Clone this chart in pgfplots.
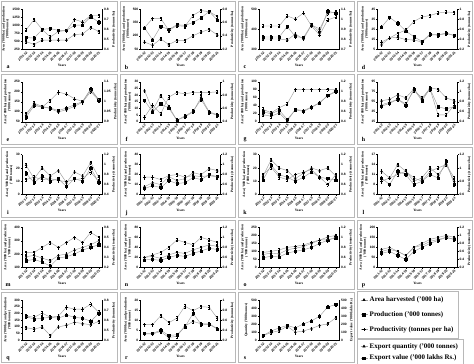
\documentclass[border=0pt]{standalone}
\usepackage{fontspec}
\setmainfont{Liberation Serif}
\setsansfont{Liberation Sans}
\usepackage{pgfplots}
\pgfplotsset{compat=1.18}
\definecolor{lncol}{gray}{0.62}
\definecolor{boxcol}{gray}{0.72}
\newcommand\tk{\fontsize{3.3}{3.6}\selectfont\sffamily\bfseries}
\newcommand\lb{\fontsize{3.5}{3.9}\selectfont\bfseries}
\pgfplotsset{
  panelbase/.style={scale only axis, width=80bp, height=40bp,
    xmin=-0.5, xmax=9.4, xtick={0,...,9},
    xticklabels={2011-12,2012-13,2013-14,2014-15,2015-16,2016-17,2017-18,2018-19,2019-20,2020-21},
    tick align=outside, major tick length=1.2bp,
    tick style={black, line width=0.3bp},
    axis line style={black, line width=0.4bp},
    ticklabel style={font=\tk},
    /pgf/number format/assume math mode=true,
    /pgf/number format/1000 sep={},
    yticklabel style={inner sep=0.8bp},
    label style={font=\lb},
    clip=false,
  },
  err/.style={every axis plot post/.append style={error bars/y fixed=#1}},
  leftax/.style={panelbase, axis x line*=bottom, axis y line*=left,
    xticklabel style={rotate=45, anchor=north east, inner sep=0.5bp},
    xlabel={Years}, xlabel style={yshift=1.5bp},
    ylabel style={align=center, yshift=-1bp},
  },
  rightax/.style={panelbase, axis y line*=right, axis x line=none,
     ylabel style={align=center, yshift=1bp}},
  ser/.style={lncol, line width=0.45bp, mark options={black, solid},
     error bars/y dir=both,
     error bars/error bar style={black, line width=0.3bp},
     error bars/error mark options={rotate=90, black, mark size=0.8bp}},
  sA/.style={ser, mark=triangle*, mark size=1bp},
  sP/.style={ser, mark=square*, mark size=1.1bp},
  sY/.style={ser, mark=-, mark size=1.2bp},
}
% #1 x, #2 y, #3 letter, #4 left opts, #5 right opts, #6 area, #7 production, #8 productivity
\newcommand\Panel[8]{%
  \draw[boxcol, line width=0.5bp] ({(#1+1.5)*1bp},{-(#2+1.5)*1bp}) rectangle ({(#1+117)*1bp},{-(#2+71.3)*1bp});
  \begin{axis}[leftax, at={({(#1+22)*1bp},{-(#2+9)*1bp})}, anchor=north west, #4,
    ylabel={Area ('000 ha) and production\\('000 tonnes)}]
    \addplot[sA] coordinates {#6};
    \addplot[sP] coordinates {#7};
  \end{axis}
  \begin{axis}[rightax, at={({(#1+22)*1bp},{-(#2+9)*1bp})}, anchor=north west, #5,
    ylabel={Productivity (tonnes/ha)}]
    \addplot[sY] coordinates {#8};
  \end{axis}
  \node[font=\fontsize{6}{6}\selectfont\bfseries] at ({(#1+8)*1bp},{-(#2+67)*1bp}) {#3};
}
\begin{document}
\begin{tikzpicture}
\useasboundingbox (0,0) rectangle (474bp,-364bp);
% Row 1
\Panel{0}{0}{a}{ymin=250,ymax=1500,ytick={250,500,750,1000,1250,1500},err=50}{ymin=0.4,ymax=0.8,ytick={0.4,0.5,0.6,0.7,0.8},err=0.016}
{(0,480)(1,395)(2,530)(3,530)(4,530)(5,530)(6,700)(7,720)(8,920)(9,800)}
{(0,610)(1,590)(2,860)(3,890)(4,830)(5,830)(6,990)(7,1000)(8,1260)(9,1090)}
{(0,0.59)(1,0.695)(2,0.595)(3,0.52)(4,0.575)(5,0.585)(6,0.695)(7,0.67)(8,0.735)(9,0.735)}
\Panel{118.5}{0}{b}{ymin=50,ymax=500,ytick={50,200,350,500},err=18}{ymin=0.2,ymax=0.8,ytick={0.2,0.4,0.6,0.8},err=0.024}
{(0,128)(1,92)(2,163)(3,100)(4,146)(5,146)(6,199)(7,241)(8,270)(9,209)}
{(0,287)(1,153)(2,305)(3,270)(4,323)(5,316)(6,348)(7,401)(8,472)(9,376)}
{(0,0.52)(1,0.66)(2,0.66)(3,0.48)(4,0.55)(5,0.54)(6,0.705)(7,0.776)(8,0.76)(9,0.69)}
\Panel{237}{0}{c}{ymin=300,ymax=500,ytick={300,400,500},err=8}{ymin=0.7,ymax=1.1,ytick={0.7,0.8,0.9,1,1.1},err=0.016}
{(0,350)(1,350)(2,350)(3,345)(4,375)(5,350)(6,420)(7,400)(8,478)(9,485)}
{(0,360)(1,360)(2,360)(3,412)(4,362)(5,357)(6,422)(7,384)(8,490)(9,478)}
{(0,0.93)(1,0.93)(2,0.93)(3,1.03)(4,1.0)(5,1.06)(6,0.93)(7,0.84)(8,0.99)(9,1.02)}
\Panel{355.5}{0}{d}{ymin=5,ymax=45,ytick={5,15,25,35,45},err=1.6}{ymin=0.2,ymax=1,ytick={0.2,0.4,0.6,0.8,1},err=0.032}
{(0,9.4)(1,16)(2,16.7)(3,14.4)(4,14.1)(5,11.9)(6,19.2)(7,18.9)(8,20.4)(9,18.5)}
{(0,27)(1,36.5)(2,30.8)(3,23)(4,17.3)(5,12.6)(6,19.8)(7,19.2)(8,21)(9,18.5)}
{(0,0.34)(1,0.42)(2,0.51)(3,0.58)(4,0.75)(5,0.84)(6,0.87)(7,0.92)(8,0.94)(9,0.93)}
% Row 2
\Panel{0}{72.8}{e}{ymin=50,ymax=250,ytick={50,100,150,200,250},err=8}{ymin=0.9,ymax=1.1,ytick={0.9,0.95,1,1.05,1.1},err=0.008}
{(0,83)(1,143)(2,127)(3,116)(4,99)(5,111)(6,127)(7,148)(8,201)(9,157)}
{(0,72)(1,131)(2,124)(3,119)(4,106)(5,119)(6,135)(7,151)(8,214)(9,160)}
{(0,0.941)(1,0.985)(2,0.974)(3,1.007)(4,1.048)(5,1.039)(6,1.015)(7,1.002)(8,1.061)(9,1.01)}
\Panel{118.5}{72.8}{f}{ymin=0,ymax=30,ytick={0,5,10,15,20,25,30},err=1.2}{ymin=0.4,ymax=1,ytick={0.4,0.6,0.8,1},err=0.024}
{(0,23.4)(1,8.6)(2,19.7)(3,11.6)(4,1.2)(5,3.7)(6,7.4)(7,18.4)(8,7.4)(9,5.4)}
{(0,16)(1,7.4)(2,13.5)(3,10.3)(4,1.2)(5,4.4)(6,7.9)(7,16.7)(8,6.9)(9,4.9)}
{(0,0.47)(1,0.65)(2,0.52)(3,0.77)(4,0.84)(5,0.82)(6,0.84)(7,0.84)(8,0.84)(9,0.85)}
\Panel{237}{72.8}{g}{ymin=0,ymax=100,ytick={0,20,40,60,80,100},err=4}{ymin=0.4,ymax=1.2,ytick={0.4,0.6,0.8,1,1.2},err=0.032}
{(0,18)(1,14)(2,22)(3,2)(4,31)(5,28)(6,37)(7,48)(8,65)(9,75)}
{(0,25)(1,20)(2,29)(3,6)(4,30)(5,26)(6,36)(7,47)(8,66)(9,77)}
{(0,0.65)(1,0.58)(2,0.68)(3,0.76)(4,1.05)(5,1.05)(6,1.05)(7,1.05)(8,1.05)(9,1.05)}
\Panel{355.5}{72.8}{h}{ymin=15,ymax=95,ytick={15,35,55,75,95},err=3.2}{ymin=0.4,ymax=1.2,ytick={0.4,0.6,0.8,1,1.2},err=0.032}
{(0,57)(1,60)(2,69)(3,63)(4,81)(5,60)(6,83)(7,80)(8,63)(9,57)}
{(0,46)(1,52)(2,60)(3,48)(4,80)(5,57)(6,81)(7,45)(8,41)(9,45)}
{(0,0.74)(1,0.79)(2,0.85)(3,0.76)(4,1.03)(5,0.88)(6,1.05)(7,0.54)(8,0.54)(9,0.73)}
% Row 3
\Panel{0}{145.6}{i}{ymin=0,ymax=30,ytick={0,10,20,30},err=1.2}{ymin=0.4,ymax=1.2,ytick={0.4,0.6,0.8,1,1.2},err=0.032}
{(0,22)(1,12)(2,20)(3,14)(4,18)(5,9)(6,17)(7,14)(8,24)(9,13)}
{(0,16)(1,9)(2,14)(3,10)(4,12)(5,6)(6,12)(7,10)(8,20)(9,9)}
{(0,0.7)(1,0.75)(2,0.7)(3,0.72)(4,0.68)(5,0.66)(6,0.7)(7,0.72)(8,0.85)(9,0.66)}
\Panel{118.5}{145.6}{j}{ymin=0,ymax=40,ytick={0,10,20,30,40},err=1.6}{ymin=0.4,ymax=1.2,ytick={0.4,0.6,0.8,1,1.2},err=0.032}
{(0,8)(1,12)(2,10)(3,18)(4,14)(5,16)(6,22)(7,20)(8,26)(9,24)}
{(0,6)(1,9)(2,7)(3,14)(4,11)(5,12)(6,17)(7,15)(8,20)(9,18)}
{(0,0.75)(1,0.75)(2,0.7)(3,0.78)(4,0.8)(5,0.75)(6,0.78)(7,0.76)(8,0.78)(9,0.75)}
\Panel{237}{145.6}{k}{ymin=0,ymax=30,ytick={0,10,20,30},err=1.2}{ymin=0.4,ymax=1.2,ytick={0.4,0.6,0.8,1,1.2},err=0.032}
{(0,14)(1,26)(2,20)(3,18)(4,12)(5,16)(6,20)(7,18)(8,20)(9,14)}
{(0,11)(1,22)(2,15)(3,13)(4,10)(5,13)(6,17)(7,13)(8,12)(9,11)}
{(0,0.8)(1,0.95)(2,0.75)(3,0.7)(4,0.8)(5,0.85)(6,0.9)(7,0.75)(8,0.6)(9,0.8)}
\Panel{355.5}{145.6}{l}{ymin=5,ymax=17,ytick={5,8,11,14,17},err=0.5}{ymin=0.6,ymax=1.2,ytick={0.6,0.8,1,1.2},err=0.024}
{(0,12)(1,10)(2,14)(3,12)(4,9)(5,10)(6,13)(7,11)(8,14)(9,9)}
{(0,10)(1,8)(2,12)(3,11)(4,8)(5,9)(6,11)(7,10)(8,15)(9,8)}
{(0,0.8)(1,0.85)(2,0.9)(3,0.95)(4,0.85)(5,0.8)(6,0.95)(7,1.0)(8,1.05)(9,0.85)}
% Row 4
\Panel{0}{218.4}{m}{ymin=100,ymax=400,ytick={100,200,300,400},err=12}{ymin=0.2,ymax=0.6,ytick={0.2,0.3,0.4,0.5,0.6},err=0.016}
{(0,180)(1,190)(2,170)(3,150)(4,190)(5,200)(6,230)(7,250)(8,270)(9,300)}
{(0,150)(1,160)(2,140)(3,110)(4,170)(5,180)(6,200)(7,230)(8,250)(9,270)}
{(0,0.35)(1,0.35)(2,0.4)(3,0.45)(4,0.4)(5,0.45)(6,0.5)(7,0.45)(8,0.55)(9,0.5)}
\Panel{118.5}{218.4}{n}{ymin=0,ymax=80,ytick={0,20,40,60,80},err=3.2}{ymin=0.4,ymax=1.2,ytick={0.4,0.6,0.8,1,1.2},err=0.032}
{(0,20)(1,22)(2,18)(3,25)(4,30)(5,28)(6,35)(7,40)(8,45)(9,42)}
{(0,15)(1,16)(2,14)(3,20)(4,24)(5,22)(6,28)(7,33)(8,38)(9,36)}
{(0,0.6)(1,0.65)(2,0.7)(3,0.8)(4,0.95)(5,0.9)(6,0.85)(7,1.0)(8,0.95)(9,0.9)}
\Panel{237}{218.4}{o}{ymin=0,ymax=250,ytick={0,50,100,150,200,250},err=10}{ymin=0.4,ymax=1.2,ytick={0.4,0.6,0.8,1,1.2},err=0.032}
{(0,80)(1,90)(2,85)(3,110)(4,120)(5,130)(6,150)(7,170)(8,190)(9,200)}
{(0,60)(1,70)(2,65)(3,90)(4,100)(5,110)(6,125)(7,150)(8,170)(9,185)}
{(0,0.7)(1,0.72)(2,0.75)(3,0.8)(4,0.82)(5,0.85)(6,0.9)(7,0.95)(8,0.95)(9,1.0)}
\Panel{355.5}{218.4}{p}{ymin=0,ymax=200,ytick={0,50,100,150,200},err=8}{ymin=0.2,ymax=1.2,ytick={0.2,0.4,0.6,0.8,1,1.2},err=0.04}
{(0,90)(1,100)(2,80)(3,60)(4,100)(5,120)(6,140)(7,150)(8,160)(9,150)}
{(0,70)(1,80)(2,60)(3,40)(4,80)(5,100)(6,120)(7,135)(8,150)(9,140)}
{(0,0.6)(1,0.65)(2,0.6)(3,0.5)(4,0.7)(5,0.75)(6,0.85)(7,0.9)(8,0.95)(9,0.9)}
% Row 5
\Panel{0}{291.2}{q}{ymin=0,ymax=300,ytick={0,50,100,150,200,250,300},err=12}{ymin=0.4,ymax=0.8,ytick={0.4,0.5,0.6,0.7,0.8},err=0.016}
{(0,94.5)(1,82.7)(2,99.2)(3,35.4)(4,99.2)(5,113)(6,134.6)(7,125)(8,115.7)(9,141.7)}
{(0,177)(1,158)(2,165)(3,172)(4,165)(5,189)(6,172)(7,165)(8,142)(9,201)}
{(0,0.64)(1,0.63)(2,0.67)(3,0.63)(4,0.64)(5,0.73)(6,0.71)(7,0.71)(8,0.76)(9,0.68)}
\Panel{118.5}{291.2}{r}{ymin=0,ymax=20,ytick={0,5,10,15,20},err=0.8}{ymin=0.2,ymax=1,ytick={0.2,0.4,0.6,0.8,1},err=0.032}
{(0,3.1)(1,3.1)(2,4.4)(3,1.3)(4,2.0)(5,7.1)(6,9.4)(7,8.2)(8,8.2)(9,5.8)}
{(0,3.4)(1,3.4)(2,5.0)(3,2.4)(4,2.7)(5,6.6)(6,13.4)(7,8.0)(8,7.9)(9,5.6)}
{(0,0.51)(1,0.51)(2,0.69)(3,0.55)(4,0.64)(5,0.88)(6,0.79)(7,0.87)(8,0.86)(9,0.64)}
% Panel s
\draw[boxcol, line width=0.5bp] (238.5bp,-292.7bp) rectangle (354bp,-362.5bp);
\begin{axis}[leftax, at={(259bp,-300.2bp)}, anchor=north west, ymin=0, ymax=500, ytick={0,100,200,300,400,500}, err=20,
  ylabel={Quantity ('000 tonnes)}]
  \addplot[sA] coordinates {(0,58)(1,96)(2,119)(3,173)(4,100)(5,115)(6,146)(7,185)(8,204)(9,281)};
\end{axis}
\begin{axis}[rightax, at={(259bp,-300.2bp)}, anchor=north west, ymin=0, ymax=500, ytick={0,100,200,300,400,500}, err=20,
  ylabel={Export value ('000 lakhs Rs.)}]
  \addplot[sP] coordinates {(0,58)(1,115)(2,154)(3,185)(4,154)(5,204)(6,242)(7,300)(8,415)(9,446)};
\end{axis}
\node[font=\fontsize{6}{6}\selectfont\bfseries] at (245bp,-358.2bp) {s};
% Legends
\begin{axis}[hide axis, scale only axis, width=1bp, height=1bp, xmin=0, xmax=1, ymin=0, ymax=1,
  at={(357bp,-291bp)}, anchor=north west,
  legend cell align=left,
  legend image code/.code={\draw[mark repeat=2,mark phase=2,#1] plot coordinates {(0bp,0bp) (3.5bp,0bp) (7bp,0bp)};},
  legend style={at={(0,1)}, anchor=north west, draw=boxcol, line width=0.5bp,
    font=\fontsize{7}{8}\selectfont\bfseries, row sep=4.5bp, inner xsep=3bp, inner ysep=3.5bp}]
  \addlegendimage{lncol, line width=0.5bp, mark=triangle*, mark size=1.3bp, mark options={black}}
  \addlegendentry{Area harvested ('000 ha)}
  \addlegendimage{lncol, line width=0.5bp, mark=square*, mark size=1.3bp, mark options={black}}
  \addlegendentry{Production ('000 tonnes)}
  \addlegendimage{lncol, line width=0.5bp, mark=+, mark size=1.6bp, mark options={black}}
  \addlegendentry{Productivity (tonnes per ha)}
\end{axis}
\begin{axis}[hide axis, scale only axis, width=1bp, height=1bp, xmin=0, xmax=1, ymin=0, ymax=1,
  at={(357bp,-338.5bp)}, anchor=north west,
  legend cell align=left,
  legend image code/.code={\draw[mark repeat=2,mark phase=2,#1] plot coordinates {(0bp,0bp) (3.5bp,0bp) (7bp,0bp)};},
  legend style={at={(0,1)}, anchor=north west, draw=boxcol, line width=0.5bp,
    font=\fontsize{7}{8}\selectfont\bfseries, row sep=1.5bp, inner xsep=3bp, inner ysep=2.5bp}]
  \addlegendimage{lncol, line width=0.5bp, mark=triangle*, mark size=1.3bp, mark options={black}}
  \addlegendentry{Export quantity ('000 tonnes)}
  \addlegendimage{lncol, line width=0.5bp, mark=square*, mark size=1.3bp, mark options={black}}
  \addlegendentry{Export value ('000 lakhs Rs.)}
\end{axis}
\end{tikzpicture}
\end{document}
